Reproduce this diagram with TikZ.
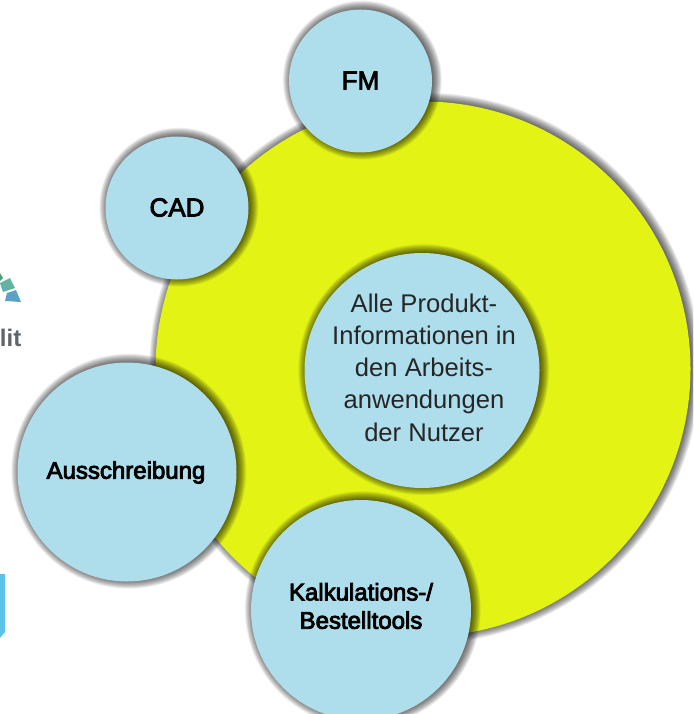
\documentclass[tikz,border=0pt]{standalone}
\usepackage{fontspec}
\setmainfont{Liberation Sans}
\usetikzlibrary{calc}
\definecolor{lime}{HTML}{E3F415}
\definecolor{bub}{HTML}{AEDDEC}
\definecolor{logog}{HTML}{4FA07A}
\definecolor{logot}{HTML}{62B3A4}
\definecolor{logob}{HTML}{5BA2C8}
\definecolor{logotxt}{HTML}{5E6468}
\definecolor{tabb}{HTML}{5EC1EA}
\newcommand{\softshadow}[3]{%
  \foreach \k in {0,...,15}{%
    \fill[black,opacity=0.05] ($(#1,#2)+(1.8,-0.8)$) circle ({#3+8-\k*0.6});
  }%
}
\newcommand{\heavy}[1]{\special{pdf:code 2 Tr 0.85 w}#1\special{pdf:code 0 Tr 1 w}}
\tikzset{
  x=1pt,y=1pt,
  bubble/.style={circle,fill=bub,inner sep=0pt},
  outer/.style={inner sep=0pt,align=center,text=black,font=\fontsize{24}{28.3}\selectfont},
  outerbig/.style={outer,font=\fontsize{26}{30}\selectfont},
  inner/.style={inner sep=0pt,align=center,text=black!85,font=\fontsize{25.6}{32.3}\selectfont},
}
\begin{document}
\begin{tikzpicture}[yscale=-1]
\useasboundingbox (0,0) rectangle (693,714);
\clip (0,0) rectangle (693,714);
% left-hand cut-off fragments
\fill[logog] (0,273) -- (3,278) -- (0,281) -- cycle;
\fill[logot] (0,283) -- (10,278) -- (15,288) -- (3,292) -- cycle;
\fill[logob] (7,293) -- (16,290) -- (21,302) -- (5,301) -- cycle;
\node[anchor=base east,inner sep=0pt,text=logotxt,font=\bfseries\fontsize{24}{30}\selectfont] (lit) at (21.5,346.5) {lit};
\fill[tabb] (0,574) -- (5,574) -- (5,632) -- (0,638) -- cycle;
% big yellow disc
\softshadow{423}{369}{267.5}
\fill[lime] (423,369) circle (267.5);
% bubbles
\softshadow{177}{208}{71.5}
\node[bubble,minimum size=143] (cad) at (177,208) {};
\node[outerbig] (cadt) at (177,207.5) {\heavy{CAD}};
\softshadow{360.5}{81}{71.5}
\node[bubble,minimum size=143] (fm) at (360.5,81) {};
\node[outerbig] (fmt) at (360.5,80.5) {\heavy{FM}};
\softshadow{422}{370.5}{117.5}
\node[bubble,minimum size=235] (core) at (422,370.5) {};
\node[inner] (coret) at (424,367.5) {Alle Produkt-\\Informationen in\\den Arbeits-\\anwendungen\\der Nutzer};
\softshadow{127}{472}{109.5}
\node[bubble,minimum size=219] (aus) at (127,472) {};
\node[outer] (aust) at (126,472.5) {\heavy{Ausschreibung}};
\softshadow{361}{610}{110}
\node[bubble,minimum size=220] (kalk) at (361,610) {};
\node[outer] (kalkt) at (361,606) {\heavy{Kalkulations-/}\\\heavy{Bestelltools}};
\end{tikzpicture}
\end{document}
